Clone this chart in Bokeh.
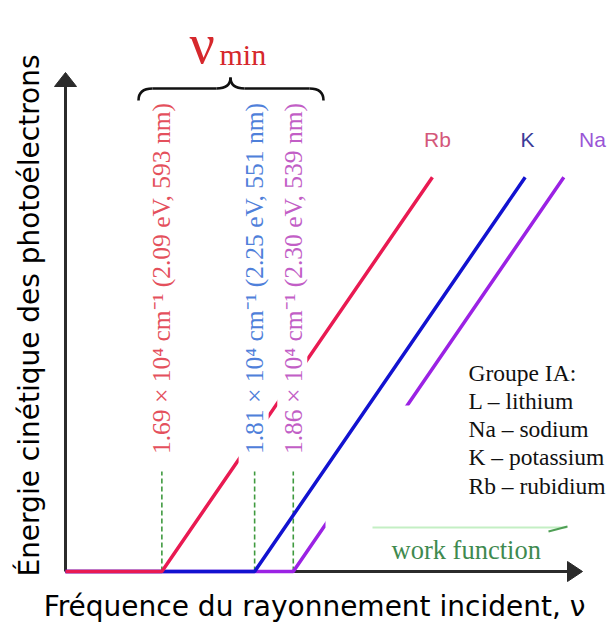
import math

from bokeh.core.properties import value
from bokeh.embed import file_html
from bokeh.models import Range1d
from bokeh.plotting import figure
from bokeh.resources import INLINE

# Alkali metals and their photoelectric thresholds (wavenumber in 10^4 cm^-1)
metals = ["Rb", "K", "Na"]
threshold_nu = [1.69, 1.81, 1.86]
threshold_ev = [2.09, 2.25, 2.30]
threshold_nm = [593, 551, 539]
end_nu = [2.04, 2.16, 2.21]

line_colors = ["#e91a52", "#1212d0", "#9b22e4"]
label_colors = ["#e4505c", "#4f80da", "#c25ec6"]
name_colors = ["#d4577a", "#3b3b98", "#9a55d6"]

legend_lines = ["Groupe IA:", "L \u2013 lithium", "Na \u2013 sodium",
                "K \u2013 potassium", "Rb \u2013 rubidium"]

H_EV = 1.2398  # photon energy (eV) per 10^4 cm^-1

# canvas geometry: pixel <-> data conversion
W, H = 611, 627
PX_PER_NU = 773.0
NU_LEFT = 1145.0 / PX_PER_NU
PX_PER_EV = 908.7
BASE_PY = 571


def X(px):
    return NU_LEFT + px / PX_PER_NU


def Y(py):
    return (BASE_PY - py) / PX_PER_EV


def dx(px):
    return px / PX_PER_NU


p = figure(width=W, height=H, x_range=Range1d(X(0), X(W)), y_range=Range1d(Y(H), Y(0)),
           x_axis_type=None, y_axis_type=None, toolbar_location=None,
           output_backend="svg", min_border=0)
p.outline_line_color = None
p.background_fill_color = "white"
p.border_fill_color = "white"

AXIS = "#2b2b2b"
SERIF = value("Liberation Serif")
SANS = value("DejaVu Sans")

# axes with arrow heads
ORIGIN_PX = 65
p.line([X(ORIGIN_PX), X(568)], [0, 0], line_color=AXIS, line_width=3)
p.line([X(ORIGIN_PX), X(ORIGIN_PX)], [0, Y(86)], line_color=AXIS, line_width=3)
p.patch([X(567), X(582), X(567)], [Y(561), Y(571), Y(581)], fill_color=AXIS, line_color=AXIS)
p.patch([X(54), X(65), X(76)], [Y(86), Y(72), Y(86)], fill_color=AXIS, line_color=AXIS)

# dashed markers at each threshold
p.segment(x0=threshold_nu, y0=[0] * 3, x1=threshold_nu, y1=[Y(468)] * 3,
          line_color="#3f9a3f", line_width=1.6, line_dash="5 3")


# kinetic energy of the photoelectrons: KE = h (nu - nu0)
def ke_path(i):
    xs = [X(ORIGIN_PX), threshold_nu[i], end_nu[i]]
    ys = [0, 0, H_EV * (end_nu[i] - threshold_nu[i])]
    return xs, ys


xs, ys = ke_path(2)
p.line(xs, ys, line_color=line_colors[2], line_width=3.5)

# white panel behind the legend
p.quad(left=X(325), right=X(W), bottom=Y(527), top=Y(405), fill_color="white", line_color=None)

for i in (1, 0):
    xs, ys = ke_path(i)
    p.line(xs, ys, line_color=line_colors[i], line_width=3.5)

# threshold labels on white strips
p.quad(left=[n - dx(16) for n in threshold_nu], right=[n + dx(14) for n in threshold_nu],
       bottom=[Y(471)] * 3, top=[Y(100)] * 3, fill_color="white", line_color=None)
labels = [f"{n:.2f} \u00d7 10\u2074 cm\u207b\u00b9 ({e:.2f} eV, {w} nm)"
          for n, e, w in zip(threshold_nu, threshold_ev, threshold_nm)]
p.text(x=threshold_nu, y=[Y(278)] * 3, text=labels, angle=math.pi / 2,
       text_align="center", text_baseline="middle", text_color=label_colors,
       text_font=SERIF, text_font_size="25.5px")

# metal names above the line ends
p.text(x=[X(437), X(527), X(592)], y=[Y(139)] * 3, text=metals, text_align="center",
       text_baseline="middle", text_color=name_colors, text_font=value("Liberation Sans"),
       text_font_size="21px")

# brace over the threshold labels
BR = dict(line_color="#111111", line_width=2.6)
p.quadratic(x0=[X(138), X(216), X(230), X(309)], y0=[Y(100), Y(88), Y(77), Y(88)],
            x1=[X(152), X(230), X(244), X(323)], y1=[Y(88), Y(77), Y(88), Y(100)],
            cx=[X(138), X(230), X(230), X(323)], cy=[Y(88), Y(88), Y(88), Y(88)], **BR)
p.segment(x0=[X(152), X(244)], y0=[Y(88)] * 2, x1=[X(216), X(309)], y1=[Y(88)] * 2, **BR)
p.text(x=[X(189)], y=[Y(43)], text=["\u03bd"], text_font=SERIF, text_font_size="56px",
       text_color="#d6282c", text_baseline="alphabetic")
p.text(x=[X(219)], y=[Y(54)], text=["min"], text_font=SERIF, text_font_size="30px",
       text_color="#d6282c", text_baseline="alphabetic")

# legend
p.text(x=[X(468)] * 5, y=[Y(372 + 28.25 * k) for k in range(5)], text=legend_lines,
       text_font=SERIF, text_font_size="23.5px", text_color="#111111",
       text_baseline="alphabetic")

# work function note
p.line([X(372), X(566)], [Y(527), Y(527)], line_color="#c4efc4", line_width=2)
p.line([X(548), X(567)], [Y(531), Y(526)], line_color="#4f9f55", line_width=2)
p.text(x=[X(391)], y=[Y(549)], text=["work function"], text_font=SERIF,
       text_font_size="26.5px", text_color="#3f8a4f", text_baseline="alphabetic")

# axis titles
p.text(x=[X(314)], y=[Y(606)], text=["Fr\u00e9quence du rayonnement incident, \u03bd"],
       text_align="center", text_baseline="middle", text_font=SANS,
       text_font_size="28px", text_color="#000000")
p.text(x=[X(29)], y=[Y(315)], text=["\u00c9nergie cin\u00e9tique des photo\u00e9lectrons"],
       angle=math.pi / 2, text_align="center", text_baseline="middle", text_font=SANS,
       text_font_size="28px", text_color="#000000")

open("out.html", "w").write(file_html(p, INLINE))
